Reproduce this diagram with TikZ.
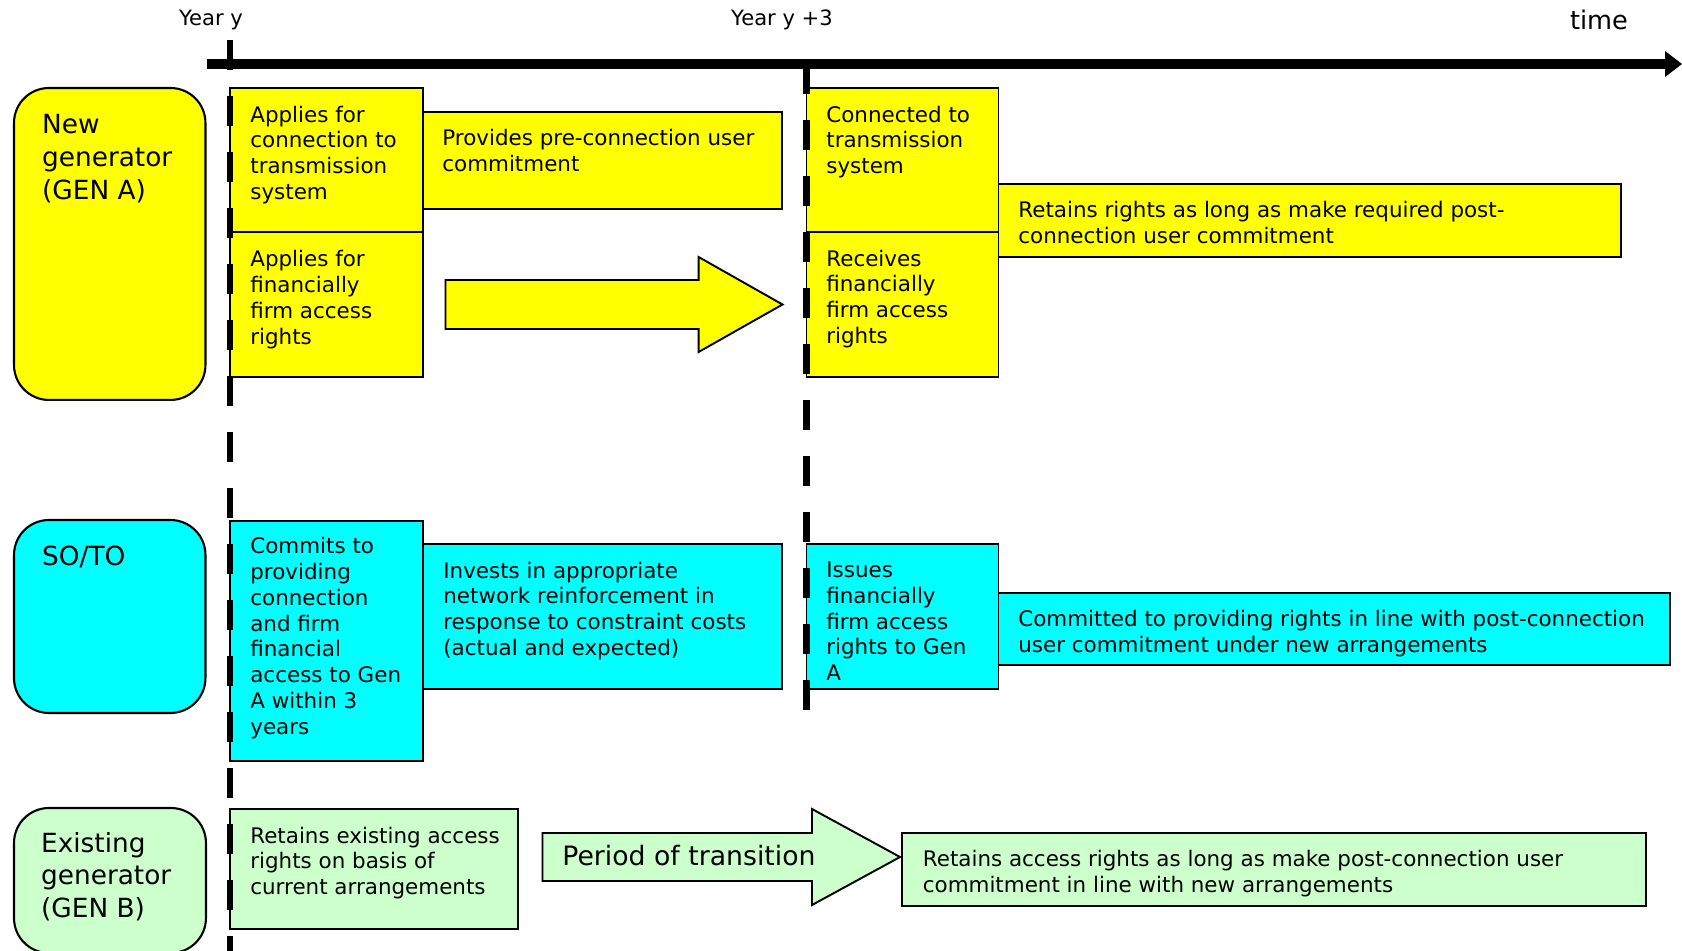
\documentclass[tikz,border=0pt]{standalone}
\usepackage{fontspec}
\setmainfont{DejaVu Sans}
\usetikzlibrary{arrows.meta}
\definecolor{genyellow}{RGB}{255,255,0}
\definecolor{socyan}{RGB}{0,255,255}
\definecolor{oldgreen}{RGB}{204,255,204}
\newcommand{\boxfont}{\fontsize{12.2}{14.7}\selectfont}
\newcommand{\headfont}{\fontsize{15}{18.6}\selectfont}
\tikzset{
    stepbox/.style={draw, line width=1.1pt, inner sep=0pt, outer sep=0pt, anchor=north west},
    headbox/.style={stepbox, line width=1.2pt, rounded corners=0.7cm},
    boxtext/.style={anchor=north west, align=left, inner sep=0pt, font=\boxfont},
    headtext/.style={anchor=north west, align=left, inner sep=0pt, font=\headfont},
    yearline/.style={line width=3.7pt, dash pattern=on 0.6cm off 0.52cm},
}
\begin{document}
\begin{tikzpicture}[x=0.02cm, y=-0.02cm]
                \useasboundingbox (0,0) rectangle (1682,950);
                \clip (0,0) rectangle (1682,950);

                \node[headbox, fill=genyellow, minimum width=3.83cm, minimum height=6.24cm] (genA) at (14,88) {};
                \node[headbox, fill=socyan, minimum width=3.83cm, minimum height=3.86cm] (soto) at (14,520) {};
                \node[headbox, fill=oldgreen, minimum width=3.84cm, minimum height=2.9cm] (genB) at (14,808) {};
                \node[headtext] (genAtxt) at (41.8,114.1) {New\\generator\\(GEN A)};
                \node[headtext] (sototxt) at (41.8,545.7) {SO/TO};
                \node[headtext] (genBtxt) at (40.8,831.7) {Existing\\generator\\(GEN B)};

                \node[stepbox, fill=genyellow, minimum width=3.86cm, minimum height=2.88cm] (a1) at (230,88) {};
                \node[stepbox, fill=genyellow, minimum width=3.86cm, minimum height=2.9cm] (a2) at (230,232) {};
                \node[stepbox, fill=genyellow, minimum width=7.18cm, minimum height=1.94cm] (a3) at (423,112) {};
                \node[stepbox, fill=genyellow, minimum width=3.84cm, minimum height=2.88cm] (a4) at (806.5,88) {};
                \node[stepbox, fill=genyellow, minimum width=3.84cm, minimum height=2.9cm] (a5) at (806.5,232) {};
                \node[stepbox, fill=genyellow, minimum width=12.45cm, minimum height=1.46cm] (a6) at (998.5,184) {};
                \node[boxtext] (a1txt) at (250,105.5) {Applies for\\connection to\\transmission\\system};
                \node[boxtext] (a2txt) at (250,250) {Applies for\\financially\\firm access\\rights};
                \node[boxtext] (a3txt) at (442,129) {Provides pre-connection user\\commitment};
                \node[boxtext] (a4txt) at (826,105.5) {Connected to\\transmission\\system};
                \node[boxtext] (a5txt) at (826,249.5) {Receives\\financially\\firm access\\rights};
                \node[boxtext] (a6txt) at (1018,200.7) {Retains rights as long as make required post-\\connection user commitment};
                \filldraw[fill=genyellow, line width=1.1pt] (445.5,280) -- (698.6,280) -- (698.6,257) -- (782.5,304.5)
                    -- (698.6,352) -- (698.6,329) -- (445.5,329) -- cycle;

                \node[stepbox, fill=socyan, minimum width=3.86cm, minimum height=4.8cm] (s1) at (230,521) {};
                \node[stepbox, fill=socyan, minimum width=7.18cm, minimum height=2.9cm] (s2) at (423,544) {};
                \node[stepbox, fill=socyan, minimum width=3.84cm, minimum height=2.9cm] (s3) at (806.5,544) {};
                \node[stepbox, fill=socyan, minimum width=13.43cm, minimum height=1.44cm] (s4) at (998.5,593) {};
                \node[boxtext] (s1txt) at (250,537) {Commits to\\providing\\connection\\and firm\\financial\\access to Gen\\A within 3\\years};
                \node[boxtext] (s2txt) at (443,561.4) {Invests in appropriate\\network reinforcement in\\response to constraint costs\\(actual and expected)};
                \node[boxtext] (s3txt) at (826,561.4) {Issues\\financially\\firm access\\rights to Gen\\A};
                \node[boxtext] (s4txt) at (1018,610) {Committed to providing rights in line with post-connection\\user commitment under new arrangements};

                \node[stepbox, fill=oldgreen, minimum width=5.76cm, minimum height=2.4cm] (b1) at (230,809) {};
                \node[stepbox, fill=oldgreen, minimum width=14.89cm, minimum height=1.46cm] (b2) at (902,833) {};
                \node[boxtext] (b1txt) at (250,826.4) {Retains existing access\\rights on basis of\\current arrangements};
                \node[boxtext] (b2txt) at (922.5,850) {Retains access rights as long as make post-connection user\\commitment in line with new arrangements};
                \filldraw[fill=oldgreen, line width=1.1pt] (542.5,833) -- (812,833) -- (812,809) -- (900,857)
                    -- (812,905) -- (812,881) -- (542.5,881) -- cycle;
                \node[anchor=base west, inner sep=0pt, font=\fontsize{15.2}{18}\selectfont] (period) at (562,865) {Period of transition};

                \coordinate (y0top) at (230,40);
                \coordinate (y0bot) at (230,952);
                \coordinate (y3top) at (806.5,64);
                \coordinate (y3bot) at (806.5,711);
                \draw[yearline] (y0top) -- (y0bot);
                \draw[yearline] (y3top) -- (y3bot);

                \coordinate (t0) at (207,64);
                \coordinate (tend) at (1682,64);
                \draw[line width=5.4pt, -{Triangle[length=0.34cm, width=0.52cm, line width=0pt]}] (t0) -- (tend);
                \node[anchor=base, font=\fontsize{12}{14}\selectfont] (yy) at (211,25) {Year y};
                \node[anchor=base, font=\fontsize{12}{14}\selectfont] (yy3) at (782,25) {Year y +3};
                \node[anchor=base, font=\fontsize{14.6}{17}\selectfont] (time) at (1599,29.3) {time};
\end{tikzpicture}
\end{document}
